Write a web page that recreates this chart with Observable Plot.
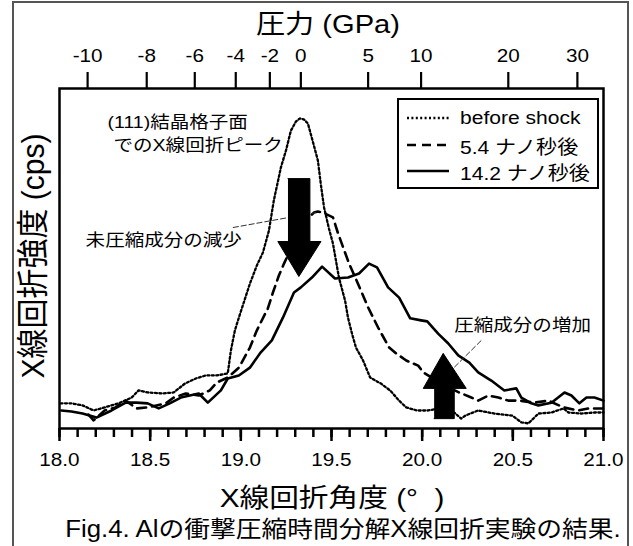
<!DOCTYPE html>
<html>
<head>
<meta charset="utf-8">
<script src="https://cdn.jsdelivr.net/npm/d3@7"></script>
<script src="https://cdn.jsdelivr.net/npm/@observablehq/plot@0.6"></script>
<style>
  html, body { margin: 0; padding: 0; background: #fff; }
  #wrap { position: relative; width: 633px; height: 546px; overflow: hidden; background: #fff;
          font-family: "Liberation Sans", "Noto Sans CJK JP", sans-serif; color: #000; }
  #wrap > svg { position: absolute; left: 0; top: 0; }
  .lbl { position: absolute; white-space: pre; line-height: 1; }
  #border { position: absolute; left: 12px; top: 1px; width: 613px; height: 560px; border: 2px solid #555; }
  #legend { position: absolute; left: 397px; top: 98px; width: 198px; height: 87px; border: 2px solid #000; background: #fff; }
  #legend .row { position: absolute; left: 8px; height: 24px; display: flex; align-items: center; }
  #legend .row svg { position: static; display: block; flex: none; }
  #legend .row span { font-size: 18.8px; margin-left: 11px; display: inline-block; transform: scaleX(1.12); transform-origin: left center; white-space: pre; }
</style>
</head>
<body>
<div id="wrap">
  <div id="border"></div>
</div>
<script>
// ---- data ----
const majorTicks = [18.0, 18.5, 19.0, 19.5, 20.0, 20.5, 21.0];
const pressureLabels = [-10, -8, -6, -4, -2, 0, 5, 10, 20, 30];
const pressureAngles = [18.155, 18.481, 18.746, 18.972, 19.160, 19.331, 19.702, 19.994, 20.475, 20.856];

const seriesNames = ["before shock", "5.4 ナノ秒後", "14.2 ナノ秒後"];

const beforeAngle = [18.006,18.066,18.127,18.188,18.249,18.326,18.398,18.436,18.486,18.569,18.630,18.691,18.751,18.807,18.867,18.928,18.945,18.967,18.989,19.050,19.088,19.122,19.155,19.182,19.221,19.249,19.276,19.304,19.326,19.348,19.370,19.403,19.425,19.442,19.459,19.486,19.508,19.541,19.575,19.591,19.613,19.635,19.674,19.713,19.773,19.823,19.873,19.912,19.972,20.033,20.094,20.177,20.215,20.238,20.309,20.398,20.497,20.547,20.586,20.641,20.713,20.779,20.807,20.878,20.950,21.000];
const beforeValue = [7.4,7.4,6.8,5.3,6.2,7.4,9.1,11.2,10.6,10.3,10.6,13.2,14.7,15.6,15.6,16.2,22.9,28.8,32.6,42.6,47.9,51.8,58.2,67.1,76.8,81.8,87.6,90.3,91.2,90.9,89.7,83.2,78.8,71.5,65.0,58.8,54.4,44.4,37.6,32.6,27.9,23.8,20.0,15.0,13.2,11.2,8.2,6.2,5.3,5.3,5.9,4.7,2.9,3.8,5.3,4.4,3.8,1.8,1.5,4.4,4.7,5.9,4.7,4.4,4.7,4.7];

const ns54Angle = [18.160,18.188,18.249,18.309,18.365,18.425,18.486,18.586,18.630,18.696,18.768,18.829,18.867,18.928,18.989,19.050,19.088,19.110,19.149,19.177,19.210,19.238,19.304,19.359,19.403,19.425,19.453,19.508,19.536,19.597,19.646,19.702,19.757,19.818,19.856,19.912,19.978,20.006,20.105,20.204,20.271,20.309,20.365,20.420,20.475,20.536,20.619,20.696,20.779,20.862,20.917,21.000];
const ns54Value = [4.1,2.4,5.3,6.2,8.2,5.9,6.2,7.4,9.1,10.3,9.7,11.2,13.5,15.0,17.9,23.8,28.8,31.2,35.3,40.0,45.0,48.5,55.9,61.2,63.5,63.8,63.5,62.1,57.4,48.5,42.6,35.6,29.7,23.8,22.1,20.0,18.5,16.5,13.2,10.6,9.1,8.2,9.7,9.1,8.2,8.2,7.6,8.2,6.2,5.3,5.9,5.9];

const ns142Angle = [18.010,18.066,18.127,18.204,18.287,18.365,18.425,18.486,18.547,18.608,18.669,18.768,18.818,18.890,18.928,18.989,19.050,19.110,19.171,19.232,19.293,19.331,19.392,19.448,19.519,19.591,19.652,19.707,19.751,19.812,19.873,19.934,19.994,20.028,20.088,20.144,20.199,20.260,20.309,20.381,20.453,20.519,20.547,20.602,20.641,20.713,20.785,20.823,20.867,20.906,20.950,21.000];
const ns142Value = [5.3,5.0,4.4,3.2,5.3,7.6,7.6,7.4,5.9,7.4,9.1,10.3,7.6,11.2,14.7,15.6,17.9,22.4,25.9,32.6,40.0,41.5,44.4,47.6,44.1,44.4,45.6,48.5,47.4,41.5,38.5,32.4,31.8,31.5,27.9,25.0,21.5,19.4,16.5,14.1,11.2,11.8,9.1,7.4,6.8,7.6,10.6,9.7,7.4,9.1,9.1,8.2];

// annotations (data coordinates)
const noteTexts = ["(111)結晶格子面", "でのX線回折ピーク", "未圧縮成分の減少", "圧縮成分の増加"];
const noteAngles = [18.265, 18.298, 18.144, 20.177];
const noteValues = [90.0, 83.2, 55.3, 30.3];

const downArrowAngle = [19.260, 19.381, 19.381, 19.442, 19.320, 19.204, 19.260];
const downArrowValue = [73.5, 73.5, 55.0, 55.0, 44.7, 55.0, 55.0];
const upArrowAngle = [20.066, 20.177, 20.177, 20.243, 20.116, 20.006, 20.066];
const upArrowValue = [2.9, 2.9, 11.8, 11.8, 22.1, 11.8, 11.8];

const leaderX1 = [18.956, 20.326];
const leaderY1 = [59.1, 25.9];
const leaderX2 = [19.414, 20.160];
const leaderY2 = [63.5, 17.1];

// ---- build tables ----
const toRows = (a, v) => a.map((x, i) => ({angle: x, value: v[i]}));
const before = toRows(beforeAngle, beforeValue);
const ns54 = toRows(ns54Angle, ns54Value);
const ns142 = toRows(ns142Angle, ns142Value);
const notes = noteTexts.map((t, i) => ({text: t, angle: noteAngles[i], value: noteValues[i]}));
const downArrow = toRows(downArrowAngle, downArrowValue);
const upArrow = toRows(upArrowAngle, upArrowValue);
const leaders = leaderX1.map((x, i) => ({x1: x, y1: leaderY1[i], x2: leaderX2[i], y2: leaderY2[i]}));
const minorTicks = d3.range(0, 31).map(i => 18 + i / 10);
const pMap = new Map(pressureAngles.map((a, i) => [a, String(pressureLabels[i])]));

const dotDash = "2,2.4";
const dashDash = "9,6";

const chart = Plot.plot({
  width: 633, height: 546,
  marginLeft: 59, marginRight: 30, marginTop: 88, marginBottom: 118,
  x: {domain: [18, 21], label: null},
  y: {domain: [0, 100], axis: null, label: null},
  style: {fontFamily: '"Liberation Sans", "Noto Sans CJK JP", sans-serif', fontSize: "18px", color: "#000", background: "transparent", overflow: "visible"},
  marks: [
    Plot.line(before, {x: "angle", y: "value", stroke: "#000", strokeWidth: 2.3, strokeDasharray: dotDash}),
    Plot.line(ns54, {x: "angle", y: "value", stroke: "#000", strokeWidth: 2.6, strokeDasharray: dashDash}),
    Plot.line(ns142, {x: "angle", y: "value", stroke: "#000", strokeWidth: 2.6, strokeLinejoin: "round"}),
    Plot.link(leaders, {x1: "x1", y1: "y1", x2: "x2", y2: "y2", stroke: "#333", strokeWidth: 1, strokeDasharray: "6,2"}),
    Plot.line(downArrow, {x: "angle", y: "value", fill: "#000", stroke: "#000", strokeWidth: 1}),
    Plot.line(upArrow, {x: "angle", y: "value", fill: "#000", stroke: "#000", strokeWidth: 1}),
    Plot.text(notes, {x: "angle", y: "value", text: "text", textAnchor: "start", fontSize: 17, fill: "#000"}),
    Plot.axisX({anchor: "bottom", ticks: minorTicks, tickSize: 9, tickFormat: () => "", strokeWidth: 2.5, label: null}),
    Plot.axisX({anchor: "bottom", ticks: majorTicks, tickSize: 13, tickPadding: 12, tickFormat: d3.format(".1f"), strokeWidth: 2.5, label: null}),
    Plot.axisX({anchor: "top", ticks: pressureAngles, tickSize: 17, tickPadding: 10, tickFormat: d => pMap.get(d), strokeWidth: 2.2, label: null}),
    Plot.frame({stroke: "#000", strokeWidth: 2.5})
  ]
});

// slight horizontal stretch of text, as in the reference
chart.querySelectorAll("text").forEach(t => {
  let tr = t.getAttribute("transform") || "";
  const x = t.getAttribute("x");
  if (x !== null && !isNaN(+x)) { t.removeAttribute("x"); tr += ` translate(${x},0)`; }
  t.setAttribute("transform", tr + " scale(1.15,1)");
});

const wrap = document.getElementById("wrap");
wrap.appendChild(chart);

function addLabel(text, cx, cy, size, extra) {
  const d = document.createElement("div");
  d.className = "lbl";
  d.textContent = text;
  d.style.left = cx + "px";
  d.style.top = cy + "px";
  d.style.fontSize = size + "px";
  d.style.transform = "translate(-50%,-50%) " + (extra || "scaleX(1.12)");
  wrap.appendChild(d);
}
addLabel("圧力 (GPa)", 328, 24, 26);
addLabel("X線回折角度 (°\u00a0\u00a0)", 332, 498, 26.5);
addLabel("Fig.4. Alの衝撃圧縮時間分解X線回折実験の結果.", 343, 529, 23);
addLabel("X線回折強度 (cps)", 33, 256, 30, "scaleX(1.06) rotate(-90deg)");

// legend
const legend = document.createElement("div");
legend.id = "legend";
const dashes = [dotDash, dashDash, null];
const widths = [2.3, 2.6, 2.6];
const tops = [6, 33, 59];
seriesNames.forEach((name, i) => {
  const row = document.createElement("div");
  row.className = "row";
  row.style.top = tops[i] + "px";
  const s = d3.create("svg").attr("width", 42).attr("height", 10);
  s.append("line").attr("x1", 0).attr("x2", 42).attr("y1", 5).attr("y2", 5)
    .attr("stroke", "#000").attr("stroke-width", widths[i])
    .attr("stroke-dasharray", dashes[i]);
  row.appendChild(s.node());
  const sp = document.createElement("span");
  sp.textContent = name;
  row.appendChild(sp);
  legend.appendChild(row);
});
wrap.appendChild(legend);
</script>
</body>
</html>
